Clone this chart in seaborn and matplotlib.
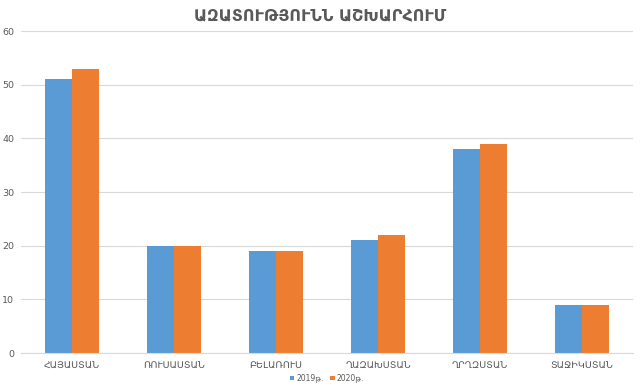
import matplotlib
matplotlib.use("Agg")
import matplotlib.pyplot as plt
import seaborn as sns
import pandas as pd

countries = ["ՀԱՅԱՍՏԱՆ", "ՌՈՒՍԱՍՏԱՆ", "ԲԵԼԱՌՈՒՍ", "ՂԱԶԱԽՍՏԱՆ", "ՂՐՂԶՍՏԱՆ", "ՏԱՋԻԿՍՏԱՆ"]
years = ["2019թ.", "2020թ."]
values_2019 = [51, 20, 19, 21, 38, 9]
values_2020 = [53, 20, 19, 22, 39, 9]
colors = ["#5B9BD5", "#ED7D31"]

df = pd.DataFrame({
    "country": countries * 2,
    "year": [years[0]] * len(countries) + [years[1]] * len(countries),
    "value": values_2019 + values_2020,
})

sns.set_style("white")
plt.rcParams["font.family"] = ["DejaVu Sans"]

fig = plt.figure(figsize = (6.4, 3.89), dpi = 100)
ax = fig.add_axes([0.033, 0.0925, 0.956, 0.8275])
sns.barplot(data = df, x = "country", y = "value", hue = "year", palette = colors, width = 0.53, gap = 0,
            ax = ax, saturation = 1, linewidth = 0, edgecolor = "none")

ax.set_ylim(0, 60)
ax.set_yticks(range(0, 61, 10))
ax.set_xlim(-0.5, 5.5)
ax.yaxis.grid(True, color = "#D9D9D9", linewidth = 0.8)
ax.set_axisbelow(True)
for side in ["top", "right", "left"]:
    ax.spines[side].set_visible(False)
ax.spines["bottom"].set_color("#D9D9D9")
ax.tick_params(axis = "both", length = 0, labelsize = 6.8, labelcolor = "#595959")
ax.tick_params(axis = "x", pad = 6)
ax.tick_params(axis = "y", pad = 5)
ax.set_xlabel("")
ax.set_ylabel("")

fig.suptitle("ԱԶԱՏՈՒԹՅՈՒՆՆ ԱՇԽԱՐՀՈՒՄ", y = 0.98, fontsize = 11.5, color = "#595959", fontweight = "semibold")

ax.legend(loc = "center", bbox_to_anchor = (0.5, -0.078), ncol = 2, frameon = False, fontsize = 5.5,
          handlelength = 0.6, handleheight = 0.6, handletextpad = 0.3, columnspacing = 0.8, labelcolor = "#595959")

fig.savefig("out.png", dpi = 100)
